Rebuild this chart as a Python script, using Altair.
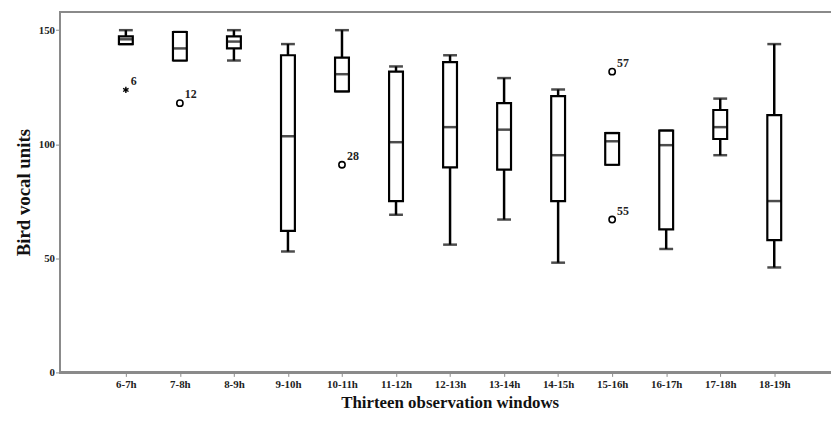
import altair as alt
import pandas as pd

windows = ["6-7h", "7-8h", "8-9h", "9-10h", "10-11h", "11-12h", "12-13h",
           "13-14h", "14-15h", "15-16h", "16-17h", "17-18h", "18-19h"]
whisk_lo = [143.9, 136.7, 136.7, 53, 123.2, 69.1, 56, 67, 48.1, 91, 54.1, 95.2, 46]
q1 =       [143.9, 136.7, 142, 62, 123.2, 75.1, 89.9, 88.9, 75.1, 91, 62.7, 102.3, 58]
median =   [146, 142, 145, 103.5, 130.7, 100.9, 107.5, 106.4, 95.2, 101.3, 99.6, 107.5, 75.1]
q3 =       [147.3, 149.2, 147.3, 139, 138, 131.8, 136, 118, 121.1, 104.9, 106, 115, 112.8]
whisk_hi = [150, 149.2, 150, 143.9, 150, 134.1, 139, 129, 124, 104.9, 106, 120, 143.9]

out_window = ["6-7h", "7-8h", "10-11h", "15-16h", "15-16h"]
out_value = [123.8, 118, 91, 131.8, 67]
out_label = ["6", "12", "28", "57", "55"]
out_kind = ["extreme", "outlier", "outlier", "outlier", "outlier"]

box = pd.DataFrame({"w": windows, "lo": whisk_lo, "q1": q1, "med": median,
                    "q3": q3, "hi": whisk_hi})
outs = pd.DataFrame({"w": out_window, "v": out_value, "lab": out_label, "kind": out_kind})

FONT = "Liberation Serif"
GRAY = "#8a8a8a"
W = 779
H = 364

xscale = alt.Scale(domain=windows, type="point", padding=0, range=[67, 721.7])
yscale = alt.Scale(domain=[0, 158], nice=False)

x_enc = alt.X("w:N", scale=xscale, sort=windows,
              axis=alt.Axis(title="Thirteen observation windows", labelAngle=0,
                            labelFont=FONT, labelFontWeight="bold", labelFontSize=11,
                            labelColor="#222", titleFont=FONT, titleFontWeight="bold",
                            titleFontSize=17, titleColor="#111", titlePadding=5,
                            titleX=394, titleAnchor="middle", domain=False,
                            tickColor=GRAY, tickSize=4, labelPadding=2))

base = alt.Chart(box)

whisk_low = base.mark_rule(color="black", strokeWidth=2.5).encode(
    x=x_enc,
    y=alt.Y("lo:Q", scale=yscale,
            axis=alt.Axis(title="Bird vocal units", values=[0, 50, 100, 150],
                          grid=False, labelFont=FONT, labelFontWeight="bold",
                          labelFontSize=11, labelColor="#222", titleFont=FONT,
                          titleFontWeight="bold", titleFontSize=19, titleColor="#111",
                          titlePadding=5, domainColor=GRAY, domainWidth=2,
                          tickColor=GRAY, tickSize=4, labelPadding=1)),
    y2="q1:Q")
whisk_high = base.mark_rule(color="black", strokeWidth=2.5).encode(
    x=alt.X("w:N", scale=xscale, sort=windows), y=alt.Y("q3:Q", scale=yscale), y2="hi:Q")

caps_lo = base.mark_tick(orient="horizontal", color="black", size=14, thickness=2.5).encode(
    x=alt.X("w:N", scale=xscale, sort=windows), y=alt.Y("lo:Q", scale=yscale))
caps_hi = base.mark_tick(orient="horizontal", color="black", size=14, thickness=2.5).encode(
    x=alt.X("w:N", scale=xscale, sort=windows), y=alt.Y("hi:Q", scale=yscale))

boxes = base.mark_bar(fill="white", stroke="black", strokeWidth=2.2, size=14).encode(
    x=alt.X("w:N", scale=xscale, sort=windows), y=alt.Y("q1:Q", scale=yscale), y2="q3:Q")

meds = base.mark_tick(orient="horizontal", color="black", size=14, thickness=2.5).encode(
    x=alt.X("w:N", scale=xscale, sort=windows), y=alt.Y("med:Q", scale=yscale))

ob = alt.Chart(outs)
circles = ob.transform_filter(alt.datum.kind == "outlier").mark_point(
    shape="circle", filled=False, color="black", strokeWidth=1.6, size=40, opacity=1).encode(
    x=alt.X("w:N", scale=xscale, sort=windows), y=alt.Y("v:Q", scale=yscale))
stars = ob.transform_filter(alt.datum.kind == "extreme").mark_point(
    shape="M0,-1L0,1M-0.87,-0.5L0.87,0.5M-0.87,0.5L0.87,-0.5",
    filled=False, color="black", strokeWidth=1.4, size=40, opacity=1).encode(
    x=alt.X("w:N", scale=xscale, sort=windows), y=alt.Y("v:Q", scale=yscale))
labels = ob.mark_text(align="left", baseline="middle", dx=5, dy=-9, font=FONT,
                      fontSize=12, fontWeight="bold", color="#222").encode(
    x=alt.X("w:N", scale=xscale, sort=windows), y=alt.Y("v:Q", scale=yscale), text="lab:N")

topline = alt.Chart(box).mark_rule(color=GRAY, strokeWidth=2).encode(
    x=alt.value(0), x2=alt.value(W + 20), y=alt.value(0))
bottomline = alt.Chart(box).mark_rule(color=GRAY, strokeWidth=2).encode(
    x=alt.value(0), x2=alt.value(W + 20), y=alt.value(H))

chart = alt.layer(topline, bottomline, whisk_low, whisk_high, caps_lo, caps_hi, boxes, meds,
                  circles, stars, labels).properties(
    width=W, height=H,
    padding={"left": 52, "top": 2, "right": 0, "bottom": 36},
    autosize=alt.AutoSizeParams(type="none"),
).configure_view(stroke="transparent", strokeWidth=0).configure(background="white")

chart.save("out.html", embed_options={"renderer": "svg", "actions": False})
